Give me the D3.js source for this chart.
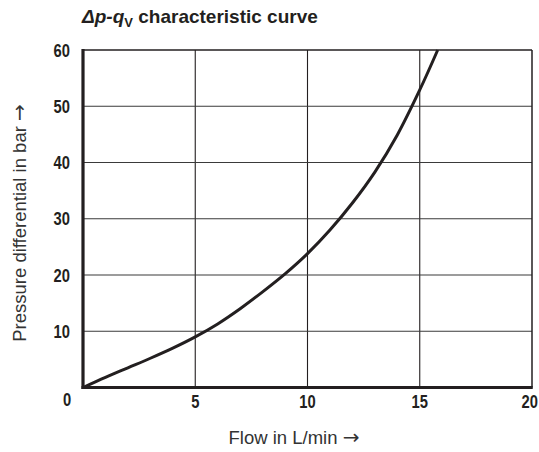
<!DOCTYPE html>
<html>
<head>
<meta charset="utf-8">
<script src="https://cdn.jsdelivr.net/npm/d3@7"></script>
<style>
  html, body { margin: 0; padding: 0; background: #fff; }
  svg { display: block; font-family: "Liberation Sans", Arial, sans-serif; }
  .arrow { font-family: "DejaVu Sans", sans-serif; }
</style>
</head>
<body>
<svg id="chart" width="539" height="452"></svg>
<script>
const flow = [0, 1, 2, 3, 4, 5, 6, 7, 8, 9, 10, 11, 12, 13, 14, 15, 15.8];
const pressure = [0, 1.8, 3.5, 5.2, 7.0, 9.0, 11.3, 14.0, 17.0, 20.2, 23.8, 28.0, 32.8, 38.3, 44.9, 52.9, 60];
const xTicks = [0, 5, 10, 15, 20];
const yTicks = [0, 10, 20, 30, 40, 50, 60];

const svg = d3.select("#chart");
const mLeft = 83, mRight = 532, mTop = 50, mBottom = 387.5;

const x = d3.scaleLinear().domain([0, 20]).range([mLeft, mRight]);
const y = d3.scaleLinear().domain([0, 60]).range([mBottom, mTop]);

// gridlines
svg.append("g").selectAll("line").data(xTicks.slice(1, -1)).join("line")
  .attr("x1", d => x(d)).attr("x2", d => x(d))
  .attr("y1", mTop).attr("y2", mBottom)
  .attr("stroke", "#231f20").attr("stroke-width", 1.1);
svg.append("g").selectAll("line").data(yTicks.slice(1, -1)).join("line")
  .attr("x1", mLeft).attr("x2", mRight)
  .attr("y1", d => y(d)).attr("y2", d => y(d))
  .attr("stroke", "#3a3a3a").attr("stroke-width", 1.1);

// top and right border
svg.append("line").attr("x1", mLeft).attr("x2", mRight).attr("y1", mTop).attr("y2", mTop)
  .attr("stroke", "#231f20").attr("stroke-width", 1.5);
svg.append("line").attr("x1", mRight).attr("x2", mRight).attr("y1", mTop).attr("y2", mBottom)
  .attr("stroke", "#231f20").attr("stroke-width", 1.5);

// curve
const line = d3.line().x((d, i) => x(flow[i])).y(d => y(d)).curve(d3.curveCatmullRom.alpha(0.5));
svg.append("path").datum(pressure).attr("d", line)
  .attr("fill", "none").attr("stroke", "#231f20").attr("stroke-width", 3);

// axes (thick)
svg.append("line").attr("x1", mLeft).attr("x2", mLeft).attr("y1", mTop - 1).attr("y2", mBottom + 1.5)
  .attr("stroke", "#231f20").attr("stroke-width", 3.2);
svg.append("line").attr("x1", mLeft - 1.5).attr("x2", mRight + 0.75).attr("y1", mBottom).attr("y2", mBottom)
  .attr("stroke", "#231f20").attr("stroke-width", 3);

// tick labels (condensed bold)
const sx = 0.82;
svg.append("g").selectAll("text").data(yTicks.slice(1)).join("text")
  .attr("transform", d => `translate(70,${y(d) + 6.5}) scale(${sx},1)`)
  .attr("text-anchor", "end")
  .attr("font-size", 18).attr("font-weight", "bold").attr("fill", "#231f20")
  .text(d => d);
svg.append("g").selectAll("text").data(xTicks).join("text")
  .attr("transform", d => {
    const px = d === 0 ? 67 : (d === 20 ? 538 : x(d));
    const py = d === 0 ? 406 : 408;
    return `translate(${px},${py}) scale(${sx},1)`;
  })
  .attr("text-anchor", d => d === 20 ? "end" : "middle")
  .attr("font-size", 18).attr("font-weight", "bold").attr("fill", "#231f20")
  .text(d => d);

// axis titles
const xt = svg.append("text").attr("x", 294).attr("y", 444).attr("text-anchor", "middle")
  .attr("font-size", 18.5).attr("fill", "#333");
xt.append("tspan").text("Flow in L/min ");
xt.append("tspan").attr("class", "arrow").attr("font-size", 20).text("→");
const yt = svg.append("text").attr("transform", "translate(26,223) rotate(-90)").attr("text-anchor", "middle")
  .attr("font-size", 18.5).attr("fill", "#333");
yt.append("tspan").text("Pressure differential in bar ");
yt.append("tspan").attr("class", "arrow").attr("font-size", 20).text("→");

// title
const t = svg.append("text").attr("x", 82).attr("y", 23)
  .attr("font-size", 19).attr("font-weight", "bold").attr("fill", "#231f20");
t.append("tspan").attr("font-style", "italic").text("Δp-q");
t.append("tspan").attr("font-size", 13).attr("dy", 4).text("V");
t.append("tspan").attr("dy", -4).text(" characteristic curve");
</script>
</body>
</html>
